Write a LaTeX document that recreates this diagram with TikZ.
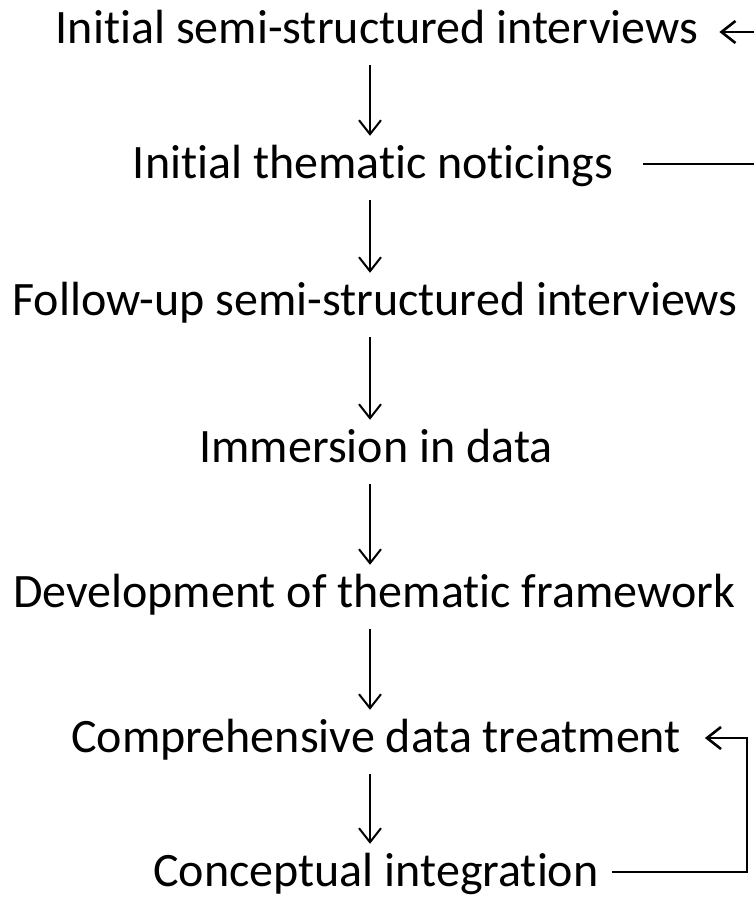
\documentclass[tikz,border=0pt]{standalone}
\usepackage{fontspec}
\setmainfont{Carlito}[Ligatures=NoCommon]
\usepackage{tikz}
\usetikzlibrary{arrows.meta,positioning}

\begin{document}
\begin{tikzpicture}[
  x=1pt, y=-1pt,
  font=\fontsize{48}{58}\selectfont,
  stage/.style={anchor=base, inner sep=0pt, text height=36pt, text depth=12pt},
  arr/.style={-{Straight Barb[length=14pt,width=22pt]}, line width=2pt, black},
  loop/.style={arr, line width=2.6pt}
]
  \useasboundingbox (0,0) rectangle (753,900);

  \node[stage] (ini) at (377,43) {Initial semi-structured interviews};
  \node[stage] (notice) at (373,178) {Initial thematic noticings};
  \node[stage] (follow) at (375,315) {Follow-up semi-structured interviews};
  \node[stage] (immerse) at (376,462) {Immersion in data};
  \node[stage] (develop) at (374,607) {Development of thematic framework};
  \node[stage] (compr) at (376,752) {Comprehensive data treatment};
  \node[stage] (concept) at (376,886) {Conceptual integration};

  % downward chain
  \foreach \a/\b in {ini/notice, notice/follow, follow/immerse,
                     immerse/develop, develop/compr, compr/concept}
    \draw[arr, shorten <=10pt, shorten >=6pt]
      ([xshift=-6pt]\a.south -| 376,0) -- ([xshift=-6pt]\b.north -| 376,0);

  % feedback loops on the right
  \coordinate (rt) at (762,100);
  \coordinate (rb) at (747,820);
  \draw[loop] ([xshift=30pt,yshift=2pt]notice.east) -| (rt)
    |- ([xshift=21pt,yshift=-1pt]ini.east);
  \draw[loop] ([xshift=13pt,yshift=2pt]concept.east) -| (rb)
    |- ([xshift=24pt,yshift=2pt]compr.east);
\end{tikzpicture}
\end{document}
